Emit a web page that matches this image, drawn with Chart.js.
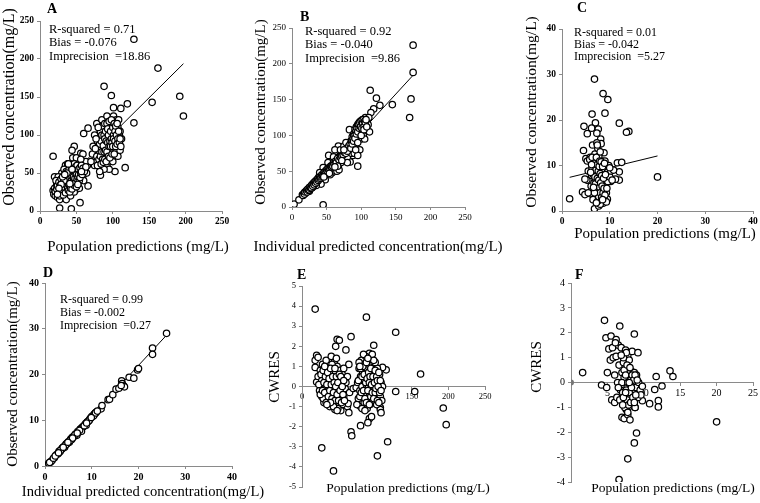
<!DOCTYPE html>
<html>
<head>
<meta charset="utf-8">
<script src="https://cdn.jsdelivr.net/npm/chart.js@4.4.1/dist/chart.umd.min.js"></script>
<style>
  html, body { margin: 0; padding: 0; background: #fff; }
  #wrap { position: relative; width: 760px; height: 503px; overflow: hidden; }
  #wrap canvas { position: absolute; left: 0; top: 0; }
</style>
</head>
<body>
<div id="wrap">
  <canvas id="cA" width="760" height="503"></canvas>
  <canvas id="cB" width="760" height="503"></canvas>
  <canvas id="cC" width="760" height="503"></canvas>
  <canvas id="cD" width="760" height="503"></canvas>
  <canvas id="cE" width="760" height="503"></canvas>
  <canvas id="cF" width="760" height="503"></canvas>
</div>
<script>
// A: population predictions vs observed (mg/L)
const ptsA = [
  [129,226],[162,188],[192,151],[197,125],[154,143],[129,116],[117,57],[103,52],[88,164],[98,152],
  [120,141],[111,135],[101,136],[18,72],[66,109],[60,102],[47,85],[44,80],[56,76],[59,75],
  [27,4],[43,3],[55,11],[66,33],[83,47],[107,72],[20,45],
  [18,27],[19,22],[20,30],[21,20],[22,25],[23,35],[24,18],[25,28],[26,22],[27,33],[28,40],[28,25],
  [29,19],[30,30],[31,36],[31,23],[32,45],[33,28],[34,38],[34,20],[35,32],[35,50],[36,42],[37,27],
  [37,36],[38,45],[38,55],[39,33],[39,22],[40,40],[40,48],[41,30],[41,58],[42,37],[42,45],[43,52],
  [43,26],[44,35],[44,42],[45,48],[45,60],[46,31],[46,40],[47,53],[47,45],[48,38],[48,65],[49,50],
  [49,28],[50,43],[50,56],[51,35],[51,48],[52,60],[52,52],[53,42],[54,63],[54,30],[55,50],[56,57],
  [57,45],[58,62],[59,52],[60,48],[62,55],[64,50],[65,60],[35,60],[30,50],[25,45],[45,70],[50,70],
  [38,62],[33,55],[27,15],[36,15],[42,20],[47,25],[53,38],[60,40],[63,65],[56,68],[22,40],
  [21,26],[23,29],[24,33],[26,38],[27,20],[28,34],[29,42],[30,24],[31,28],[32,38],[32,21],[33,47],
  [34,31],[35,41],[35,24],[36,35],[36,52],[37,44],[38,30],[38,38],[39,48],[39,27],[40,35],[40,55],
  [41,42],[41,25],[42,50],[42,30],[43,40],[43,58],[44,46],[44,29],[45,38],[45,53],[46,45],[46,58],
  [47,34],[47,62],[48,43],[48,52],[49,37],[49,58],[50,48],[50,32],[51,60],[51,42],[52,45],[53,55],
  [53,48],[54,40],[55,57],[55,44],[56,50],[57,60],[58,48],[59,56],[61,52],[63,58],[33,40],[37,50],
  [29,35],[26,30],[24,22],[31,45],[34,48],[41,36],[44,55],[52,35],[57,52],[39,62],
  [75,60],[76,70],[77,80],[78,65],[79,90],[80,72],[80,100],[81,85],[82,62],[82,78],[83,95],[84,70],
  [84,110],[85,88],[85,60],[86,80],[86,100],[87,75],[87,118],[88,92],[88,65],[89,85],[89,105],[90,70],
  [90,95],[90,120],[91,80],[91,110],[92,60],[92,88],[93,100],[93,75],[94,115],[94,90],[95,65],[95,105],
  [96,82],[96,122],[97,95],[97,72],[98,110],[98,88],[99,100],[99,118],[100,78],[100,92],[101,125],
  [101,108],[102,85],[102,98],[103,115],[104,90],[104,105],[105,80],[105,120],[106,95],[107,110],
  [108,85],[109,100],[110,80],[110,105],[78,115],[75,100],[73,85],[72,75],[70,65],[85,120],[95,55],
  [88,55],[100,65],[112,95],[108,120],[92,125],[82,52],
  [78,72],[79,60],[80,85],[81,95],[81,68],[82,88],[83,72],[83,105],[84,92],[84,62],[85,78],[85,100],
  [86,68],[86,112],[87,86],[87,64],[88,100],[88,78],[89,95],[89,68],[89,115],[90,80],[90,105],[91,92],
  [91,65],[92,115],[92,78],[93,90],[93,108],[94,72],[94,100],[95,85],[95,118],[96,92],[96,70],[97,105],
  [97,85],[98,95],[98,120],[99,75],[99,90],[100,110],[100,85],[101,100],[101,95],[102,115],[102,75],
  [103,92],[103,105],[104,85],[104,112],[105,100],[106,88],[106,115],[107,95],[108,105],[109,90],
  [110,95],[111,85],[80,110],[77,95],[76,82]
];
const fitA = [[17,22.7],[197,193.8]];
const statsA = ['R-squared = 0.71', 'Bias = -0.076', 'Imprecision  =18.86'];

// B: individual predictions vs observed (mg/L)
const ptsB = [
  [175,226],[175,188],[172,151],[170,125],[145,143],[113,163],[122,152],[127,142],[118,137],[114,132],
  [45,3],[3,4],[10,10],[95,57],[84,63],[53,72],[67,85],[62,80],[83,108],[88,72],
  [15,17],[17,18],[18,20],[19,19],[20,22],[21,21],[22,24],[23,22],[24,25],[25,27],[26,25],[27,28],
  [28,30],[29,27],[30,32],[31,31],[32,34],[33,33],[34,36],[35,35],[36,38],[37,36],[38,40],[39,42],
  [40,39],[41,43],[42,44],[43,41],[44,46],[45,48],[46,44],[47,50],[48,47],[49,52],[50,49],[51,54],
  [52,51],[53,56],[54,50],[55,58],[56,53],[57,60],[58,55],[59,62],[60,58],[61,50],[62,65],[63,60],
  [64,55],[65,68],[66,63],[67,58],[68,70],[69,65],[70,72],[71,62],[72,75],[73,68],[74,78],[75,71],
  [76,73],[77,66],[78,80],[79,75],[80,70],[81,83],[82,77],[83,88],[84,80],[85,92],[86,85],[86,75],
  [87,98],[88,90],[88,80],[89,102],[90,95],[90,85],[91,108],[92,100],[92,88],[93,112],[94,104],[94,92],
  [95,115],[96,98],[96,108],[97,118],[98,102],[98,112],[99,120],[100,105],[100,95],[101,115],[102,122],
  [103,110],[103,100],[104,118],[105,112],[106,125],[107,108],[108,120],[110,115],[112,105],[111,125],
  [58,48],[65,50],[48,38],[42,32],[35,30],[52,62],[45,55],[70,80],[75,85],[80,62],[90,75],[98,80],
  [105,95],[60,70],[68,52],[55,45],[40,48],[30,28],[25,22],[95,72],[78,90],
  [16,16],[18,18],[19,21],[21,23],[22,21],[23,25],[24,23],[25,24],[26,28],[27,26],[28,27],[29,31],
  [30,29],[31,33],[32,31],[33,35],[34,33],[35,37],[36,35],[37,39],[38,37],[39,39],[40,42],[41,40],
  [42,42],[43,45],[44,43],[45,45],[46,48],[47,46],[48,50],[49,48],[50,52],[51,50],[52,54],[53,52],
  [54,55],[55,53],[56,57],[57,56],[58,58],[59,57],[60,62],[61,60],[63,64],[64,62],[66,68],[68,66],
  [70,69],[72,71],[74,73],[76,76],[78,75],[80,78],[82,85],[84,88],[85,82],[86,92],[87,88],[88,95],
  [89,92],[90,100],[91,96],[92,105],[93,102],[94,110],[95,105],[96,115],[97,110],[98,118],[99,112],
  [100,120],[101,110],[102,118],[103,122],[104,112],[105,120],[106,118],[107,122],[92,80],[95,90],
  [100,100],[104,108],[108,112],[66,57],[72,65],[75,80],[62,56],[54,47],[46,42]
];
const fitB = [[3,3.2],[175,184]];
const statsB = ['R-squared = 0.92', 'Bias = -0.040', 'Imprecision  =9.86'];

// C: population predictions vs observed (mg/L)
const ptsC = [
  [6.8,29],[8.6,25.8],[9.6,24.5],[9,21.5],[6.3,21.3],[12,19.3],[7,19.4],[4.6,18.6],[6.2,18.2],[7.6,18],
  [14,17.5],[13.5,17.3],[5.3,17],[8.1,15.8],[7.3,17.1],[20,7.5],[1.6,2.7],[6.8,0.5],[7.7,1.1],[8.6,1.7],
  [9.5,2.6],[4.3,4.2],[4.8,3.6],[12,6.8],[12,8.6],[11.6,10.6],[12.5,10.7],[10.2,6.5],[11.2,7],
  [5,11.5],[5.3,11],[5.5,8.8],[5.7,6.7],[5.9,11.8],[6.1,5.5],[6.2,7.8],[6.3,9.5],[6.4,14.5],[6.5,3.5],
  [6.6,11],[6.7,6.2],[6.8,8.5],[6.9,12.5],[7,4.5],[7,10],[7.1,7],[7.2,3],[7.3,9],[7.4,5.8],[7.5,13.8],
  [7.5,11.5],[7.6,6.5],[7.7,4],[7.8,8],[7.8,10.5],[7.9,2.8],[8,5],[8,7.5],[8.1,9.5],[8.2,14.8],[8.2,3.5],
  [8.3,6],[8.4,11],[8.5,8.5],[8.5,4.5],[8.6,10],[8.7,6.8],[8.8,3],[8.9,9],[9,5.5],[9,11],[9.2,7.5],
  [9.3,4],[9.5,8.5],[9.6,6.5],[9.8,10],[10,7.5],[10.2,8.8],[10.5,6.8],[6,3.8],[5.5,4],[5.2,6.8],[4.8,7],
  [4.5,13.3],[7.3,15],[6.5,2.5],[8.8,12.8],[9.3,2],[8,1.5],[7.5,2.2],[6.9,5],[7.7,12],[5.8,11.3],
  [6.3,11.8],[10.8,9],
  [6.5,8],[6.7,10.5],[6.9,7.5],[7,6],[7.1,9],[7.2,11.8],[7.3,4.2],[7.4,7.2],[7.4,10.2],[7.5,5],
  [7.6,8.8],[7.7,3.2],[7.7,6.8],[7.8,9.8],[7.9,5.2],[7.9,11],[8,4],[8,8.2],[8.1,6.2],[8.2,10.8],
  [8.3,3],[8.3,7.8],[8.4,5.5],[8.5,9.8],[8.6,4],[8.7,7.2],[8.8,5],[8.9,10.5],[9,3.5],[9.1,8],
  [6.8,4],[6.6,5.2],[6.2,10.2],[8,13],[7.4,14.5],[8.5,2.5],[9.4,5],[10,9.5],[7.2,1.8],[6,8.5]
];
const fitC = [[1.6,7.4],[20,12.1]];
const statsC = ['R-squared = 0.01', 'Bias = -0.042', 'Imprecision  =5.27'];

// D: individual predictions vs observed (mg/L)
const ptsD = [
  [0.8,0.6],[1.2,0.9],[1.5,1.2],[2,1.8],[2.5,2.5],[2.8,2.7],[3,3.2],[3.2,3.1],[3.5,3.6],[3.7,3.9],
  [4,4.2],[4.2,4.1],[4.5,4.8],[4.7,4.9],[5,5.3],[5.2,5.2],[5.5,5.9],[5.7,5.8],[6,6.4],[6.2,6.5],
  [6.5,6.9],[6.7,7.1],[7,7.5],[7.2,7.4],[7.5,8],[7.7,8.2],[8,8.5],[8.2,8.6],[8.5,9],[8.7,9.3],[9,9.6],
  [9.2,9.7],[9.5,10.1],[9.7,10.4],[10,10.8],[10.2,10.9],[10.5,11.3],[10.7,11.5],[11,11.8],[7.8,7.6],
  [8.8,8.9],[6.8,6.7],[5.8,6.2],[4.8,5],[3.8,3.9],[12,12.5],[12.2,13.2],[13.5,14.5],[13.8,14.6],
  [14.5,15.6],[15.2,16.8],[15.8,17],[16.4,18.6],[16.5,18],[16.8,17.5],[17,17.3],[16.3,17.6],[18,19.4],
  [19,19.2],[19.8,21],[20,21.3],[23,25.8],[23,24.4],[26,29],
  [1,0.8],[1.8,1.7],[2.2,2.2],[3.3,3.4],[4.4,4.6],[5.4,5.6],[6.4,6.8],[7.4,7.8],[8.4,8.8],[9.4,9.9],
  [10.4,11],[10.8,11.6],[11.2,12],[6.9,7.2],[5.9,6.1],[4.9,5.2],[3.9,4.1],[2.9,2.9],[8.9,9.4],[9.9,10.6]
];
const fitD = [[0.5,0.5],[26,28.6]];
const statsD = ['R-squared = 0.99', 'Bias = -0.002', 'Imprecision  =0.27'];

// E: population predictions vs CWRES
const ptsE = [
  [18,3.85],[88,3.45],[128,2.7],[162,0.62],[154,-0.25],[128,-0.25],[193,-1.07],[197,-1.9],[117,-2.75],
  [103,-3.45],[27,-3.05],[43,-4.2],[67,-2.25],[68,-2.45],[48,2.35],[51,2.3],[46,2.0],[67,2.48],[60,1.82],
  [98,2.05],[92,1.65],[115,0.83],[110,0.95],[64,1.1],[45,-1.15],[62,-1.0],[80,-1.95],[92,-1.6],[95,-1.5],
  [90,-1.8],[107,-1.05],[107,-1.15],[108,-1.3],[63,-0.85],[64,-1.3],[20,0.22],[18,0.95],[18,1.3],
  [20,1.55],[22,1.45],
  [22,0.5],[24,-0.2],[25,0.8],[26,0.1],[27,-0.5],[28,1.1],[29,0.3],[30,-0.8],[31,0.6],[32,-0.1],[33,1.3],
  [34,0.4],[35,-0.6],[36,0.9],[37,0.0],[38,-1.0],[38,0.6],[39,0.2],[40,-0.4],[40,1.5],[41,0.8],[42,-0.1],
  [42,-0.9],[43,0.4],[44,1.2],[44,-0.5],[45,0.1],[46,0.7],[46,-0.3],[47,-0.8],[48,0.3],[48,1.0],[49,-0.2],
  [50,0.5],[50,-1.0],[51,0.0],[52,0.8],[52,-0.6],[53,0.2],[54,-0.3],[55,0.6],[55,-0.9],[56,0.1],[57,-0.5],
  [58,0.4],[59,-0.1],[60,0.2],[36,-0.2],[33,-0.4],[29,-0.6],[30,0.9],[27,0.3],[41,1.1],[47,1.4],[53,-1.2],
  [49,-1.1],[57,0.9],[62,0.5],[65,-0.3],[70,-0.1],[74,-0.05],
  [76,0.2],[77,-0.6],[78,0.9],[79,-0.2],[80,0.5],[80,-1.0],[81,1.3],[82,0.0],[83,-0.5],[83,0.7],[84,1.1],
  [85,-0.8],[85,0.3],[86,-0.2],[87,1.5],[87,0.6],[88,-0.4],[88,0.1],[89,-1.1],[89,0.9],[90,0.3],[90,-0.6],
  [91,1.2],[91,0.0],[92,-0.3],[92,0.7],[93,1.0],[93,-0.9],[94,0.4],[94,-0.1],[95,1.3],[95,-0.5],[96,0.2],
  [96,0.8],[97,-0.7],[97,1.1],[98,0.0],[98,0.5],[99,-0.3],[99,1.0],[100,0.3],[100,-0.8],[101,0.7],
  [102,-0.4],[102,0.1],[103,0.9],[104,-0.6],[104,0.4],[105,-0.1],[106,0.6],[107,-0.5],[108,0.2],
  [109,-0.7],[110,0.0],[78,1.2],[84,1.6],[96,1.6],[100,1.2],[75,-0.9],[82,-1.1],[86,-1.2],[102,-0.9],
  [23,0.1],[25,-0.4],[26,0.6],[28,-0.2],[29,0.8],[30,0.2],[31,-0.3],[32,0.5],[33,-0.8],[34,0.1],
  [35,0.7],[36,-0.5],[37,0.4],[38,-0.2],[39,0.9],[40,0.1],[41,-0.6],[42,0.5],[43,-0.3],[44,0.2],
  [45,-0.7],[45,0.9],[46,0.0],[47,0.5],[48,-0.4],[49,0.2],[50,-0.7],[51,0.6],[52,-0.2],[53,0.5],
  [54,-0.8],[55,0.0],[56,-0.4],[57,0.3],[58,-0.7],[43,-1.0],[48,-1.2],[39,-0.8],[34,-0.9],[31,1.0],
  [77,0.3],[79,-0.5],[80,0.9],[81,-0.3],[82,0.5],[83,1.0],[84,-0.2],[85,0.6],[86,-0.6],[87,0.2],
  [88,1.2],[88,-0.8],[89,0.4],[90,-0.2],[91,0.7],[92,-0.9],[92,0.2],[93,0.5],[94,-0.5],[94,0.9],
  [95,0.1],[96,-0.3],[97,0.5],[98,-0.6],[98,1.3],[99,0.2],[100,-0.3],[100,0.8],[101,-0.1],[102,0.5],
  [103,-0.7],[103,0.3],[104,0.0],[105,0.7],[106,-0.3],[107,0.3],[108,-0.2],[105,-0.8],[79,1.0],[90,1.4]
];

// F: population predictions vs CWRES
const ptsF = [
  [1.6,0.4],[20,-1.58],[4.6,2.5],[6.7,2.27],[8.7,1.95],[4.8,1.8],[5.5,1.87],[6.2,1.73],[13.6,0.47],
  [14,0.24],[11.7,0.24],[12.5,-0.14],[11.5,-0.28],[12,-0.73],[12,-0.98],[10.8,-0.85],[9.8,-0.73],
  [9,-2.03],[8.7,-2.43],[7.8,-3.07],[6.6,-3.9],[4.2,-0.1],[4.9,-0.2],
  [5,0.4],[5.2,1.35],[5.4,0.9],[5.6,-0.7],[5.8,1.0],[6,0.3],[6,-0.8],[6.2,1.05],[6.3,-0.6],[6.4,0.0],
  [6.5,1.5],[6.6,0.7],[6.8,-0.3],[6.9,1.4],[7,0.4],[7,-1.4],[7.1,-0.4],[7.2,0.8],[7.3,-1.45],[7.4,0.1],
  [7.5,-0.9],[7.5,1.3],[7.6,0.5],[7.7,-0.2],[7.8,1.1],[7.8,-1.3],[7.9,-0.6],[8,0.3],[8,0.9],[8.1,-1.5],
  [8.2,-0.1],[8.3,0.45],[8.4,-0.8],[8.5,0.2],[8.6,-0.4],[8.7,0.4],[8.8,-1.0],[8.9,-0.2],[9,0.3],
  [9.2,-0.6],[9.3,0.0],[9.5,-0.3],[9.6,-0.5],[9.8,-0.15],[8.4,1.25],[9.2,1.2],[7.7,-0.7],[8,-0.95],
  [6.7,-0.7],[7.3,0.2],[7.6,-1.1],[8.2,0.1],[7.9,0.35],[8.8,-1.0],[5.7,1.4],[6.1,1.6],
  [7,0.0],[7.2,-0.6],[7.3,0.5],[7.4,-1.0],[7.5,0.3],[7.6,-0.3],[7.7,0.7],[7.8,0.0],[7.9,-0.9],
  [8,-0.4],[8.1,0.6],[8.2,-0.8],[8.3,-0.2],[8.4,0.3],[8.5,-0.6],[8.6,0.1],[8.7,-0.8],[8.8,0.3],
  [7.5,-0.4],[7.8,-1.2],[8,0.0],[7.2,1.0],[7.6,1.2],[6.9,1.1],[8.9,-0.5],[9.1,0.1],[6.5,-0.2],[7.1,-0.9]
];
const originF = [[0,0]];

const serif = "'Liberation Serif', 'Times New Roman', serif";
const axisGray = '#8a8a8a';

// panel letters, fit statistics and axis titles, drawn in page coordinates
const textPlugin = {
  id: 'panelText',
  afterDraw(chart, args, opts) {
    const ctx = chart.ctx;
    ctx.save();
    ctx.fillStyle = '#000';
    ctx.textBaseline = 'middle';
    (opts.items || []).forEach(t => {
      ctx.save();
      ctx.font = t.font;
      ctx.textAlign = t.align || 'left';
      ctx.translate(t.x, t.y);
      if (t.rot) ctx.rotate(-Math.PI / 2);
      ctx.fillText(t.text, 0, 0);
      ctx.restore();
    });
    ctx.restore();
  }
};

function makePanel(id, p) {
  const residual = p.residual;
  const datasets = [{
    type: 'scatter',
    data: p.points,
    pointRadius: 3.2,
    pointBorderWidth: 1.25,
    pointBorderColor: '#000',
    pointBackgroundColor: '#fff'
  }];
  if (p.fit) {
    datasets.push({
      type: 'line', data: p.fit, borderColor: '#000', borderWidth: 1,
      pointRadius: 0, fill: false
    });
  }
  if (p.extra) datasets.push(p.extra);

  const tickFont = { family: serif, size: p.tickSize, weight: p.tickBold ? 'bold' : 'normal' };
  const items = [
    { text: p.letter, x: p.letterPos[0], y: p.letterPos[1], font: 'bold 14px ' + serif },
    { text: p.xTitle, x: p.xTitlePos[0], y: p.xTitlePos[1], font: p.xTitleSize + 'px ' + serif, align: 'center' },
    { text: p.yTitle, x: p.yTitlePos[0], y: p.yTitlePos[1], font: p.yTitleSize + 'px ' + serif, align: 'center', rot: true }
  ];
  if (p.stats) {
    p.stats.forEach((s, i) => items.push({ text: s, x: p.statX, y: p.statY[i], font: p.statSize + 'px ' + serif }));
  }

  new Chart(document.getElementById(id), {
    type: 'scatter',
    data: { datasets },
    options: {
      responsive: false,
      animation: false,
      events: [],
      layout: {
        padding: {
          left: p.area.l - p.yW,
          top: p.area.t,
          right: 760 - p.area.r,
          bottom: residual ? 503 - p.area.b : 503 - p.area.b - p.xH
        }
      },
      plugins: { legend: { display: false }, tooltip: { enabled: false }, panelText: { items } },
      scales: {
        x: {
          type: 'linear',
          min: p.xMin, max: p.xMax,
          position: residual ? { y: 0 } : 'bottom',
          border: { display: true, color: axisGray, width: 1 },
          grid: { drawOnChartArea: false, drawTicks: true, tickLength: 3, color: axisGray },
          ticks: {
            stepSize: p.xStep, color: '#000', font: tickFont, padding: 2, maxRotation: 0,
            callback: v => (p.hideZeroX && v === 0) ? '' : v
          },
          afterFit: s => { s.height = residual ? 0 : p.xH; }
        },
        y: {
          type: 'linear',
          min: p.yMin, max: p.yMax,
          border: { display: true, color: axisGray, width: 1 },
          grid: { drawOnChartArea: false, drawTicks: true, tickLength: 3, color: axisGray },
          ticks: { stepSize: p.yStep, color: '#000', font: tickFont, padding: 3 },
          afterFit: s => { s.width = p.yW; }
        }
      }
    },
    plugins: [textPlugin]
  });
}

makePanel('cA', {
  points: ptsA, fit: fitA, letter: 'A', letterPos: [47, 9],
  stats: statsA, statX: 49, statY: [30, 43, 57], statSize: 12.5,
  area: { l: 40, t: 21, r: 222, b: 211 }, yW: 40, xH: 45,
  xMin: 0, xMax: 250, xStep: 50, yMin: 0, yMax: 250, yStep: 50,
  tickSize: 9.5, tickBold: true,
  xTitle: 'Population predictions (mg/L)', xTitleSize: 15, xTitlePos: [138, 247],
  yTitle: 'Observed concentration(mg/L)', yTitleSize: 16, yTitlePos: [10, 107]
});

makePanel('cB', {
  points: ptsB, fit: fitB, letter: 'B', letterPos: [300, 17],
  stats: statsB, statX: 305, statY: [32, 45, 59], statSize: 12.5,
  area: { l: 292, t: 28, r: 465, b: 207 }, yW: 41, xH: 49,
  xMin: 0, xMax: 250, xStep: 50, yMin: 0, yMax: 250, yStep: 50,
  tickSize: 9, tickBold: false,
  xTitle: 'Individual predicted concentration(mg/L)', xTitleSize: 15, xTitlePos: [378, 247],
  yTitle: 'Observed concentration(mg/L)', yTitleSize: 15, yTitlePos: [261, 112]
});

makePanel('cC', {
  points: ptsC, fit: fitC, letter: 'C', letterPos: [577, 8],
  stats: statsC, statX: 574, statY: [33, 45, 57], statSize: 12,
  area: { l: 562, t: 29, r: 753, b: 211 }, yW: 39, xH: 32,
  xMin: 0, xMax: 40, xStep: 10, yMin: 0, yMax: 40, yStep: 10,
  tickSize: 9.5, tickBold: true,
  xTitle: 'Population predictions (mg/L)', xTitleSize: 15, xTitlePos: [665, 234],
  yTitle: 'Observed concentration(mg/L)', yTitleSize: 15.5, yTitlePos: [532, 112]
});

makePanel('cD', {
  points: ptsD, fit: fitD, letter: 'D', letterPos: [43, 273],
  stats: statsD, statX: 60, statY: [300, 313, 326], statSize: 12,
  area: { l: 45, t: 283, r: 232, b: 466 }, yW: 41, xH: 35,
  xMin: 0, xMax: 40, xStep: 10, yMin: 0, yMax: 40, yStep: 10,
  tickSize: 10, tickBold: true,
  xTitle: 'Individual predicted concentration(mg/L)', xTitleSize: 14.6, xTitlePos: [143, 492],
  yTitle: 'Observed concentration(mg/L)', yTitleSize: 15, yTitlePos: [13, 374]
});

makePanel('cE', {
  points: ptsE, residual: true, letter: 'E', letterPos: [297, 275],
  area: { l: 302, t: 286, r: 485, b: 487 }, yW: 36,
  xMin: 0, xMax: 250, xStep: 50, yMin: -5, yMax: 5, yStep: 1,
  tickSize: 8.5, tickBold: false,
  xTitle: 'Population predictions (mg/L)', xTitleSize: 13.5, xTitlePos: [408, 488],
  yTitle: 'CWRES', yTitleSize: 15, yTitlePos: [275, 377]
});

makePanel('cF', {
  points: ptsF, residual: true, letter: 'F', letterPos: [575, 275], hideZeroX: true,
  extra: { type: 'scatter', data: originF, pointRadius: 3, pointBorderWidth: 0, pointBackgroundColor: '#777' },
  area: { l: 571, t: 283, r: 753, b: 482 }, yW: 43,
  xMin: 0, xMax: 25, xStep: 5, yMin: -4, yMax: 4, yStep: 1,
  tickSize: 10, tickBold: false,
  xTitle: 'Population predictions (mg/L)', xTitleSize: 13.5, xTitlePos: [673, 488],
  yTitle: 'CWRES', yTitleSize: 15, yTitlePos: [537, 367]
});
</script>
</body>
</html>
